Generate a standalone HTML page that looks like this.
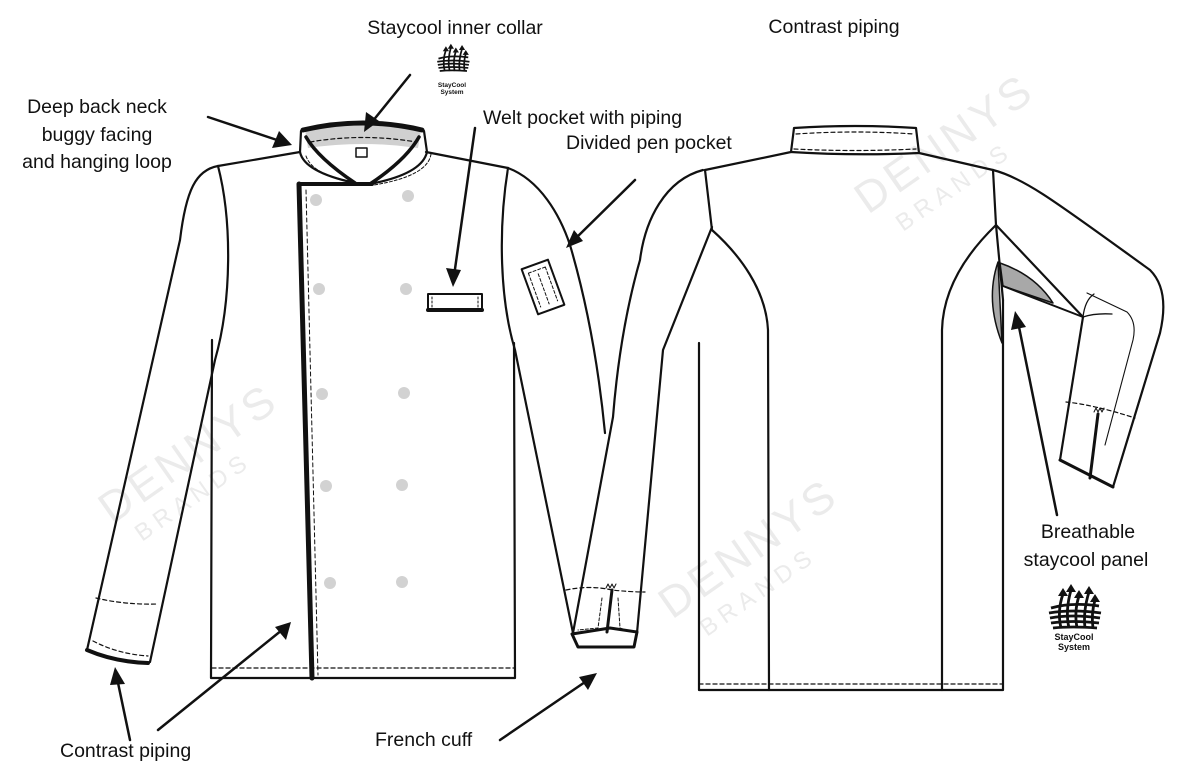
<!DOCTYPE html>
<html><head><meta charset="utf-8"><style>
html,body{margin:0;padding:0;background:#fff;}
svg{display:block;}
text{font-family:"Liberation Sans",sans-serif;fill:#111;}
</style></head><body>
<svg width="1200" height="776" viewBox="0 0 1200 776" xmlns="http://www.w3.org/2000/svg">
<defs>
<g id="logo">
  <g stroke="#111" stroke-width="2.8" fill="none">
    <path d="M14 42 Q10 25 16 8"/><path d="M22 42 Q18 25 24 4"/><path d="M30 42 Q27 25 32 10"/><path d="M38 42 Q36 25 42 6"/><path d="M46 42 Q44 28 48 14"/>
    <path d="M4 22 Q25 16 52 20"/><path d="M2 27 Q25 23 54 27"/><path d="M3 32 Q25 28 53 32"/><path d="M4 37 Q25 34 52 37"/><path d="M6 42 Q25 40 50 42"/>
  </g>
  <g fill="#111"><path d="M11 10 L16 2 L21 10Z"/><path d="M19 6 L24 -2 L29 6Z"/><path d="M27 12 L32 4 L37 12Z"/><path d="M37 8 L42 0 L47 8Z"/><path d="M43 16 L48 8 L53 16Z"/></g>
</g>
</defs>

<g>
<text transform="translate(112,525) rotate(-35)" font-size="44" style="fill:#ebebeb;letter-spacing:4px">DENNYS</text>
<text transform="translate(142,542) rotate(-35)" font-size="24" style="fill:#ebebeb;letter-spacing:6px">BRANDS</text>
<text transform="translate(672,620) rotate(-35)" font-size="44" style="fill:#ebebeb;letter-spacing:4px">DENNYS</text>
<text transform="translate(707,637) rotate(-35)" font-size="24" style="fill:#ebebeb;letter-spacing:6px">BRANDS</text>
<text transform="translate(868,215) rotate(-35)" font-size="44" style="fill:#ebebeb;letter-spacing:4px">DENNYS</text>
<text transform="translate(903,232) rotate(-35)" font-size="24" style="fill:#ebebeb;letter-spacing:6px">BRANDS</text>
</g>

<!-- buttons -->
<g fill="#d2d2d2">
<circle cx="316" cy="200" r="6"/><circle cx="408" cy="196" r="6"/>
<circle cx="319" cy="289" r="6"/><circle cx="406" cy="289" r="6"/>
<circle cx="322" cy="394" r="6"/><circle cx="404" cy="393" r="6"/>
<circle cx="326" cy="486" r="6"/><circle cx="402" cy="485" r="6"/>
<circle cx="330" cy="583" r="6"/><circle cx="402" cy="582" r="6"/>
</g>

<g fill="none" stroke="#111" stroke-width="2.2" stroke-linejoin="round" stroke-linecap="round">
<path d="M305 130 Q363 118 421 130 L418 148 Q363 140 308 148 Z" fill="#d0d0d0" stroke="none"/>
<path d="M303 130 Q363 116 422 130" stroke-width="5"/>
<path d="M310 142 Q363 133 416 142" stroke-dasharray="4 3" stroke-width="1.2"/>
<rect x="356" y="148" width="11" height="9" stroke-width="1.5"/>
<path d="M301 131 L300 152 Q304 172 355 183"/>
<path d="M306 137 Q318 158 355 183" stroke-width="3.5"/>
<path d="M424 131 L427 152 Q422 174 370 184"/>
<path d="M419 137 Q406 160 370 184" stroke-width="3.5"/>
<path d="M306 156 Q312 174 350 181" stroke-dasharray="3 2" stroke-width="1"/>
<path d="M431 154 Q428 176 374 185" stroke-dasharray="3 2" stroke-width="1"/>
<path d="M300 152 L218 166"/>
<path d="M426 152 L508 168"/>
<path d="M218 166 C196 170 186 190 180 240 L87 650"/>
<path d="M218 166 C232 220 232 300 215 360 L150 662"/>
<path d="M87 650 Q115 662 148 663" stroke-width="4"/>
<path d="M93 641 Q118 654 148 656" stroke-dasharray="4 3" stroke-width="1.2"/>
<path d="M96 598 Q125 605 158 604" stroke-dasharray="4 3" stroke-width="1.2"/>
<path d="M212 340 L211 678 L515 678 L514 343"/>
<path d="M212 668 L514 668" stroke-dasharray="4 3" stroke-width="1.3"/>
<path d="M300 184 L372 184" stroke-width="4"/>
<path d="M299 184 L312 678" stroke-width="5"/>
<path d="M306 190 L318 675" stroke-dasharray="4 3" stroke-width="1"/>
<path d="M508 168 C498 230 500 300 515 350 L573 633"/>
<path d="M508 168 C540 180 560 215 570 245 Q595 330 605 433"/>
<rect x="428" y="294" width="54" height="16" stroke-width="2"/>
<path d="M428 310 L482 310" stroke-width="4"/>
<path d="M432 297 L432 307 M478 297 L478 307" stroke-width="1" stroke-dasharray="2 2"/>
<g transform="translate(543,287) rotate(-20)">
<rect x="-14" y="-24" width="28" height="48" stroke-width="2"/>
<path d="M-9 -18 L-9 18 M0 -14 L0 18 M9 -18 L9 18 M-9 -18 L9 -18" stroke-width="1" stroke-dasharray="3 2"/>
</g>
<path d="M703 170 C665 180 645 220 640 260 Q620 330 613 417 L573 633"/>
<path d="M712 227 L663 350 L637 633"/>
<path d="M572 634 L610 628 L637 632 L634 647 L578 647 Z" stroke-width="3"/>
<path d="M566 590 Q590 585 612 590 Q630 592 645 592" stroke-dasharray="4 3" stroke-width="1.2"/>
<path d="M612 590 L607 632" stroke-width="3"/>
<path d="M602 598 L598 628 L578 630 M618 598 L620 628 L632 632" stroke-dasharray="3 2" stroke-width="1"/>
<path d="M606 588 l2 -4 l2 4 l2 -4 l2 4 l2 -4" stroke-width="1"/>

<path d="M794 128 Q855 124 916 128 L919 153 Q855 156 791 152 Z"/>
<path d="M796 134 Q855 130 914 134 M794 149 Q855 152 916 149" stroke-dasharray="4 3" stroke-width="1.2"/>
<path d="M791 152 L705 170"/>
<path d="M919 153 L993 170"/>
<path d="M705 170 L712 230 C740 255 766 290 768 330 L769 690"/>
<path d="M993 170 L996 225 C965 255 943 290 942 330 L942 690"/>
<path d="M699 343 L699 690 L1003 690 L1003 300"/>
<path d="M699 684 L1003 684" stroke-dasharray="4 3" stroke-width="1.3"/>
<path d="M996 225 L1003 300"/>
<path d="M998 262 Q985 300 1002 343 Z" fill="#a8a8a8" stroke-width="1.5"/>
<path d="M1000 263 Q1035 275 1053 303 L1003 286 Z" fill="#a8a8a8" stroke-width="1.5"/>
<path d="M993 170 C1025 178 1060 205 1150 270 Q1170 290 1160 333 L1113 487"/>
<path d="M996 225 L1083 317 L1060 460"/>
<path d="M1003 286 L1083 317" stroke-width="2"/>
<path d="M1087 293 L1127 312 Q1137 322 1133 340 L1105 445" stroke-width="1.1"/>
<path d="M1083 317 Q1085 300 1094 294 M1083 317 Q1095 313 1112 314" stroke-width="1.3"/>
<path d="M1060 460 L1113 487" stroke-width="3"/>
<path d="M1066 402 Q1095 405 1135 418" stroke-dasharray="4 3" stroke-width="1.2"/>
<path d="M1098 414 L1090 478" stroke-width="3"/>
<path d="M1094 412 l2 -4 l2 4 l2 -4 l2 4 l2 -4" stroke-width="1"/>

<g stroke-width="2.5">
<path d="M208 117 L280 141"/>
<path d="M410 75 L372 122"/>
<path d="M475 128 L454 276"/>
<path d="M635 180 L574 240"/>
<path d="M130 740 L117 678"/>
<path d="M158 730 L282 630"/>
<path d="M500 740 L588 680"/>
<path d="M1057 515 L1018 322"/>
</g>
</g>
<g fill="#111">
<polygon points="292,145 272,148 279,131"/>
<polygon points="364,132 366,112 379,121"/>
<polygon points="453,287 446,268 461,270"/>
<polygon points="566,248 574,230 583,241"/>
<polygon points="115,667 125,684 110,685"/>
<polygon points="291,622 286,640 275,627"/>
<polygon points="597,673 588,690 579,677"/>
<polygon points="1015,311 1026,327 1011,330"/>
</g>

<g transform="translate(436,45) scale(0.62)"><use href="#logo"/></g>
<text x="452" y="87" font-size="6.5" font-weight="bold" text-anchor="middle">StayCool</text>
<text x="452" y="94" font-size="6.5" font-weight="bold" text-anchor="middle">System</text>
<g transform="translate(1047,586)"><use href="#logo"/></g>
<text x="1074" y="640" font-size="9" font-weight="bold" text-anchor="middle">StayCool</text>
<text x="1074" y="650" font-size="9" font-weight="bold" text-anchor="middle">System</text>

<g font-size="19.5">
<text x="455" y="34" text-anchor="middle">Staycool inner collar</text>
<text x="834" y="33" text-anchor="middle">Contrast piping</text>
<text x="97" y="113" text-anchor="middle">Deep back neck</text>
<text x="97" y="141" text-anchor="middle">buggy facing</text>
<text x="97" y="168" text-anchor="middle">and hanging loop</text>
<text x="483" y="124">Welt pocket with piping</text>
<text x="566" y="149">Divided pen pocket</text>
<text x="1088" y="538" text-anchor="middle">Breathable</text>
<text x="1086" y="566" text-anchor="middle">staycool panel</text>
<text x="60" y="757">Contrast piping</text>
<text x="375" y="746">French cuff</text>
</g>
</svg>
</body></html>
